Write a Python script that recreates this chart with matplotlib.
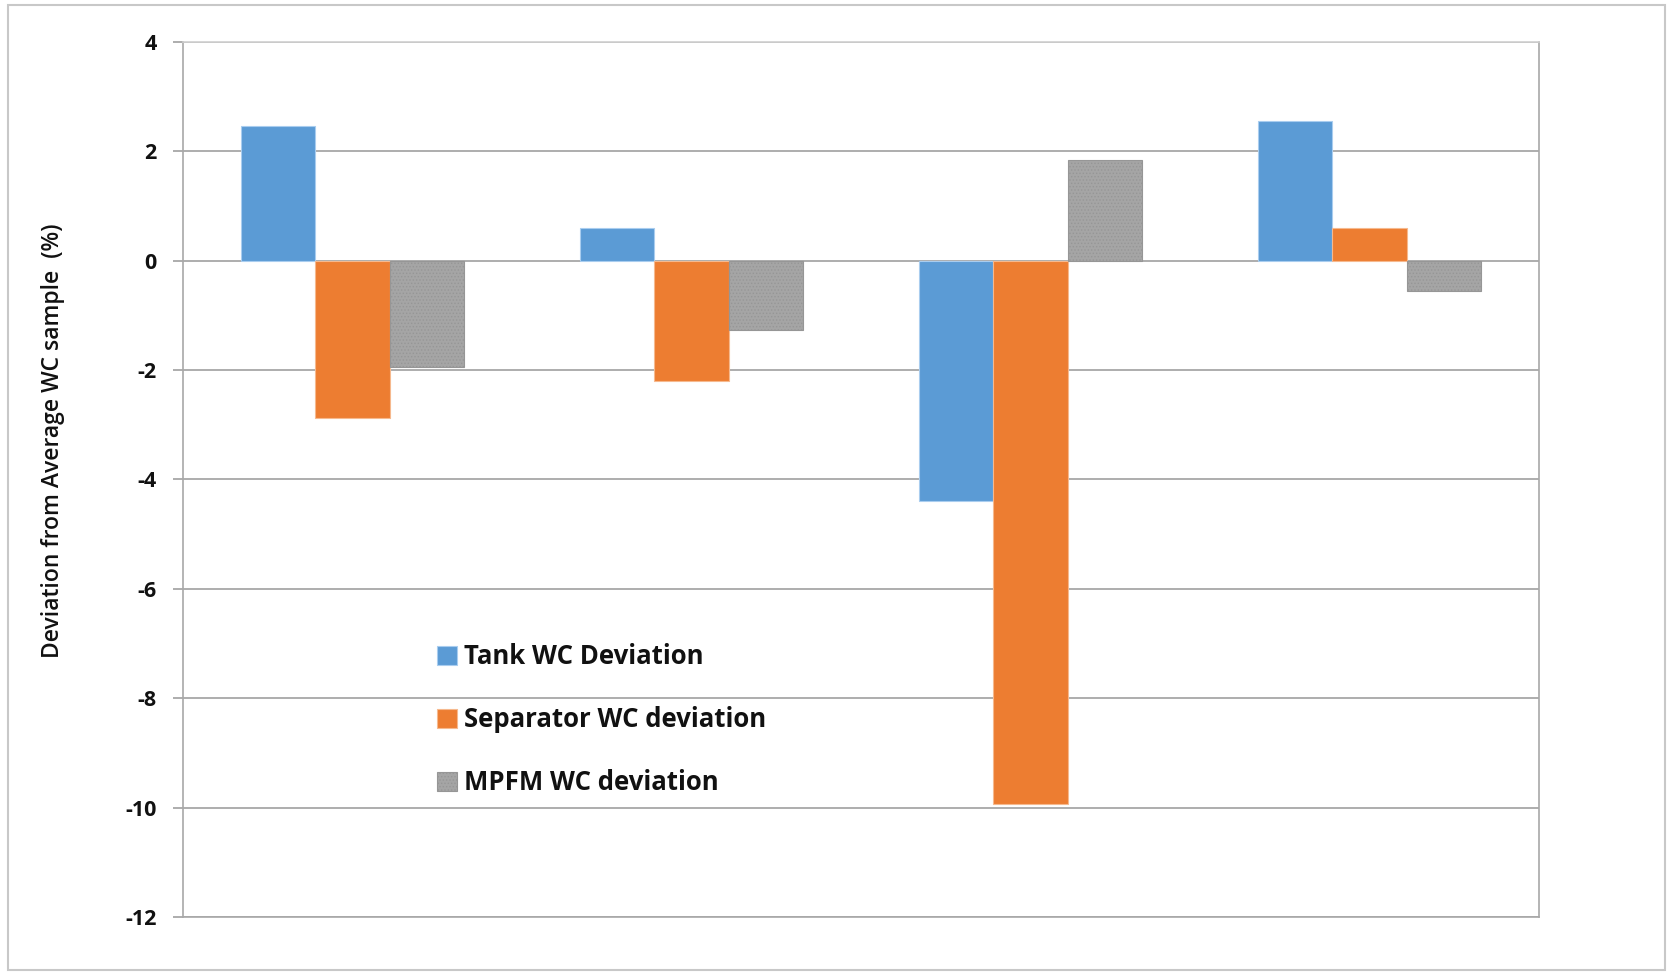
import numpy as np
import matplotlib.pyplot as plt
from matplotlib.patches import Rectangle

plt.rcParams['font.family'] = ['Open Sans', 'DejaVu Sans']
plt.rcParams['hatch.linewidth'] = 0.6
plt.rcParams['axes.unicode_minus'] = False

# -------- datos: desviaciones de corte de agua (%) por ensayo --------
ensayos = ['1', '2', '3', '4']
tank_dev = [2.46, 0.59, -4.40, 2.56]
sep_dev = [-2.88, -2.20, -9.93, 0.60]
mpfm_dev = [-1.95, -1.26, 1.84, -0.55]

series = ['Tank WC Deviation', 'Separator WC deviation', 'MPFM WC deviation']
yticks = [4, 2, 0, -2, -4, -6, -8, -10, -12]

fig = plt.figure(figsize=(16.67, 9.72), dpi=100)
ax = fig.add_axes([0.1098, 0.0566, 0.8134, 0.9002])

# marco exterior del grafico
fig.patches.append(Rectangle((8 / 1667, 0.002), 1657 / 1667, 1 - 5 / 972 - 0.002,
                             transform=fig.transFigure, fill=False,
                             edgecolor='#c8c8c8', linewidth=1.5))

x = np.arange(len(ensayos))
w = 0.22

ax.bar(x - w, tank_dev, w, color='#5B9BD5', edgecolor='#a9cdef', linewidth=0.8,
       label=series[0], zorder=3)
ax.bar(x, sep_dev, w, color='#ED7D31', edgecolor='#f6b98e', linewidth=0.8,
       label=series[1], zorder=3)
ax.bar(x + w, mpfm_dev, w, color='#A5A5A5', edgecolor='#c6c6c6', linewidth=0.8,
       hatch='.....', label=series[2], zorder=3)
# color del punteado de las barras grises
for p in ax.containers[2].patches:
    p.set_edgecolor('#969696')

ax.set_xlim(-0.5, len(ensayos) - 0.5)
ax.set_ylim(-12, 4)
ax.set_yticks(yticks)
ax.set_xticks([])

ax.grid(axis='y', color='#a0a0a0', linewidth=1.2, zorder=0)
for s in ['left', 'bottom', 'right', 'top']:
    ax.spines[s].set_color('#a8a8a8')
    ax.spines[s].set_linewidth(1.2)
ax.spines['top'].set_color('#d0d0d0')

ax.tick_params(axis='y', length=7, width=1.2, color='#a0a0a0', pad=12,
               labelsize=15.5, labelcolor='#111111')
for t in ax.get_yticklabels():
    t.set_fontweight('bold')

fig.text(53 / 1667, 1 - 441 / 972, 'Deviation from Average WC sample  (%)',
         rotation=90, ha='center', va='center', fontsize=16.5,
         fontweight='semibold', color='#111111')

leg = ax.legend(loc='upper left', bbox_to_anchor=(0.170, 0.339), frameon=False,
                handlelength=0.8, handleheight=0.75, handletextpad=0.25,
                labelspacing=1.40, prop={'weight': 'bold', 'size': 18.5})
for t in leg.get_texts():
    t.set_color('#111111')

plt.savefig('out.png', dpi=100)
